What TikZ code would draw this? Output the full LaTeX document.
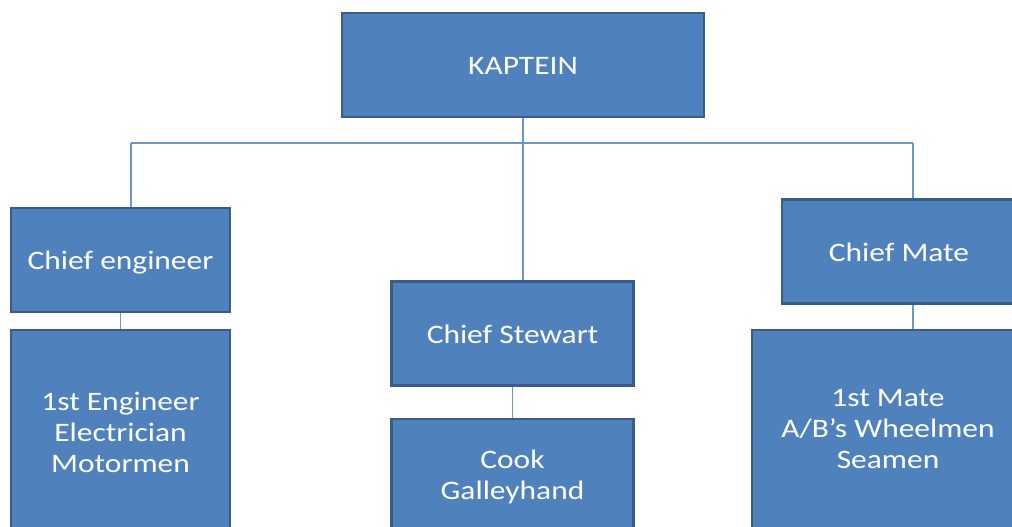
\documentclass[tikz,border=0pt]{standalone}
\usepackage{fontspec}
\setmainfont[FakeStretch=1.18]{Carlito}
\definecolor{boxfill}{HTML}{4F81BD}
\definecolor{boxedge}{HTML}{385D8A}
\definecolor{linkcol}{HTML}{6A96CC}
\begin{document}
\begin{tikzpicture}[x=0.75pt,y=-0.75pt,
  rank/.style={draw=boxedge,line width=2pt,fill=boxfill,text=white,
    font=\fontsize{20}{23.25}\selectfont,align=center,inner sep=0pt},
  oneline/.style={text height=17.2pt,text depth=2.8pt},
  link/.style={draw=linkcol,line width=1.1pt}]
\useasboundingbox (0,0) rectangle (1012,526);
\begin{scope}
\clip (0,0) rectangle (1012,526);
% top level
\node[rank,oneline,minimum width=362*0.75pt,minimum height=104*0.75pt] (kap) at (523,65) {KAPTEIN};
% department heads
\node[rank,oneline,minimum width=219*0.75pt,minimum height=104*0.75pt] (ceng) at (120.5,260) {Chief engineer};
\node[rank,oneline,minimum width=242*0.75pt,minimum height=104*0.75pt] (cstew) at (512.5,333.5) {Chief Stewart};
\node[rank,oneline,minimum width=234*0.75pt,minimum height=104*0.75pt] (cmate) at (899,251.5) {Chief Mate};
% crews
\node[rank,minimum width=219*0.75pt,minimum height=204*0.75pt] (eng) at (120.5,432) {1st Engineer\\Electrician\\Motormen};
\node[rank,minimum width=242*0.75pt,minimum height=115*0.75pt] (cook) at (512.5,476.5) {Cook\\Galleyhand};
\node[rank,minimum width=272*0.75pt,minimum height=198*0.75pt] (mate) at (888,429) {1st Mate\\A/B’s Wheelmen\\Seamen};
% connectors
\coordinate (bar) at (523,143);
\coordinate (barl) at (131,143);
\coordinate (barr) at (913,143);
\draw[link] (barl) -- (barr);
\draw[link] (kap.south -| bar) -- (cstew.north -| bar);
\draw[link] (barl) -- (ceng.north -| barl);
\draw[link] (barr) -- (cmate.north -| barr);
\draw[link] (ceng.south) -- (eng.north);
\draw[link] (cstew.south) -- (cook.north);
\draw[link] (cmate.south -| barr) -- (mate.north -| barr);
\end{scope}
\end{tikzpicture}
\end{document}
